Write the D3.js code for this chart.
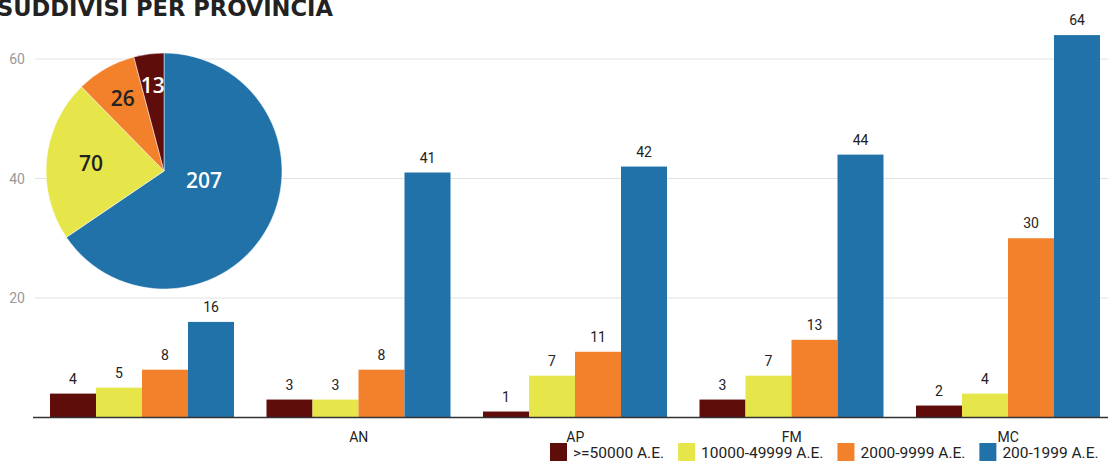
<!DOCTYPE html>
<html>
<head>
<meta charset="utf-8">
<script src="https://cdn.jsdelivr.net/npm/d3@7"></script>
<style>
  body { margin: 0; background: #fff; overflow: hidden; }
  svg { display: block; font-family: Roboto, "Open Sans", sans-serif; }
</style>
</head>
<body>
<svg id="chart" width="1108" height="461"></svg>
<script>
// data
var provinces = ['', 'AN', 'AP', 'FM', 'MC']
var classes = ['>=50000 A.E.', '10000-49999 A.E.', '2000-9999 A.E.', '200-1999 A.E.']
var colors = ['#5f0d0b', '#e6e64a', '#f3812c', '#2172a8']
var big = [4, 3, 1, 3, 2]        // >=50000
var medium = [5, 3, 7, 7, 4]     // 10000-49999
var small = [8, 8, 11, 13, 30]   // 2000-9999
var tiny = [16, 41, 42, 44, 64]  // 200-1999
var pieTotals = [207, 70, 26, 13]   // 200-1999, 10000-49999, 2000-9999, >=50000
var pieColors = ['#2172a8', '#e6e64a', '#f3812c', '#5f0d0b']
var pieText = ['#fff', '#222', '#222', '#fff']
var yTicks = [20, 40, 60]

var svg = d3.select('#chart')
var series = [big, medium, small, tiny]

var x0 = d3.scaleBand().domain(provinces).range([34, 34 + 5 * 216.5]).paddingInner(0).paddingOuter(0)
var x1 = d3.scaleBand().domain(d3.range(4)).range([16, 216.5 - 16.5])
var y = d3.scaleLinear().domain([0, 60]).range([417.5, 59])

// grid
svg.append('g').selectAll('line').data(yTicks).enter().append('line')
    .attr('x1', 35).attr('x2', 1108)
    .attr('y1', function(d) { return y(d) }).attr('y2', function(d) { return y(d) })
    .attr('stroke', '#e2e2e2').attr('stroke-width', 1)

svg.append('g').selectAll('text').data(yTicks).enter().append('text')
    .attr('x', 25).attr('y', function(d) { return y(d) + 5 })
    .attr('text-anchor', 'end').attr('font-size', 14).attr('fill', '#999')
    .text(function(d) { return d })

// bars
var groups = svg.append('g').selectAll('g').data(provinces).enter().append('g')
    .attr('transform', function(d) { return 'translate(' + x0(d) + ',0)' })

groups.each(function(p, i) {
    var g = d3.select(this)
    for (var s = 0; s < 4; s++) {
        var v = series[s][i]
        g.append('rect')
            .attr('x', x1(s)).attr('width', x1.bandwidth())
            .attr('y', y(v)).attr('height', y(0) - y(v))
            .attr('fill', colors[s])
        g.append('text')
            .attr('x', x1(s) + x1.bandwidth() / 2).attr('y', y(v) - 10)
            .attr('text-anchor', 'middle').attr('font-size', 14).attr('fill', '#222')
            .text(v)
    }
})

// x axis
svg.append('line').attr('x1', 33).attr('x2', 1108).attr('y1', 417.5).attr('y2', 417.5)
    .attr('stroke', '#333').attr('stroke-width', 1.5)
svg.append('g').selectAll('text').data(provinces).enter().append('text')
    .attr('x', function(d) { return x0(d) + x0.bandwidth() / 2 })
    .attr('y', 442).attr('text-anchor', 'middle').attr('font-size', 14).attr('fill', '#222')
    .text(function(d) { return d })

// pie
var R = 118
var pie = d3.pie().sort(null)
var arc = d3.arc().innerRadius(0).outerRadius(R)
var pg = svg.append('g').attr('transform', 'translate(164,171)')
var arcs = pie(pieTotals)
pg.selectAll('path').data(arcs).enter().append('path')
    .attr('d', arc).attr('fill', function(d, i) { return pieColors[i] })
    .attr('stroke', '#fff').attr('stroke-width', 0.5)
pg.selectAll('text').data(arcs).enter().append('text')
    .attr('transform', function(d) {
        var span = d.endAngle - d.startAngle
        var r = R * (0.76 - 0.1 * span)
        var a = (d.startAngle + d.endAngle) / 2
        if (span > Math.PI) a -= 0.26
        return 'translate(' + (Math.sin(a) * r) + ',' + (-Math.cos(a) * r) + ')'
    })
    .attr('dy', '0.36em')
    .attr('text-anchor', 'middle').attr('font-family', '"Open Sans", sans-serif')
    .attr('font-weight', 600).attr('font-size', 21)
    .attr('fill', function(d, i) { return pieText[i] })
    .text(function(d) { return d.data })

// title (cut off at the top in the original)
svg.append('text').attr('x', -3).attr('y', 16)
    .attr('font-family', '"DejaVu Sans", sans-serif').attr('font-weight', 700)
    .attr('font-size', 23).attr('fill', '#222')
    .attr('textLength', 336).attr('lengthAdjust', 'spacingAndGlyphs')
    .text('SUDDIVISI PER PROVINCIA')

// legend
var lg = svg.append('g')
var lx = 550
classes.forEach(function(c, i) {
    lg.append('rect').attr('x', lx).attr('y', 443).attr('width', 17).attr('height', 18).attr('fill', colors[i])
    var t = lg.append('text').attr('x', lx + 23).attr('y', 458)
        .attr('font-size', 15.5).attr('fill', '#222').text(c)
    lx += 23 + t.node().getComputedTextLength() + 14
})
</script>
</body>
</html>
